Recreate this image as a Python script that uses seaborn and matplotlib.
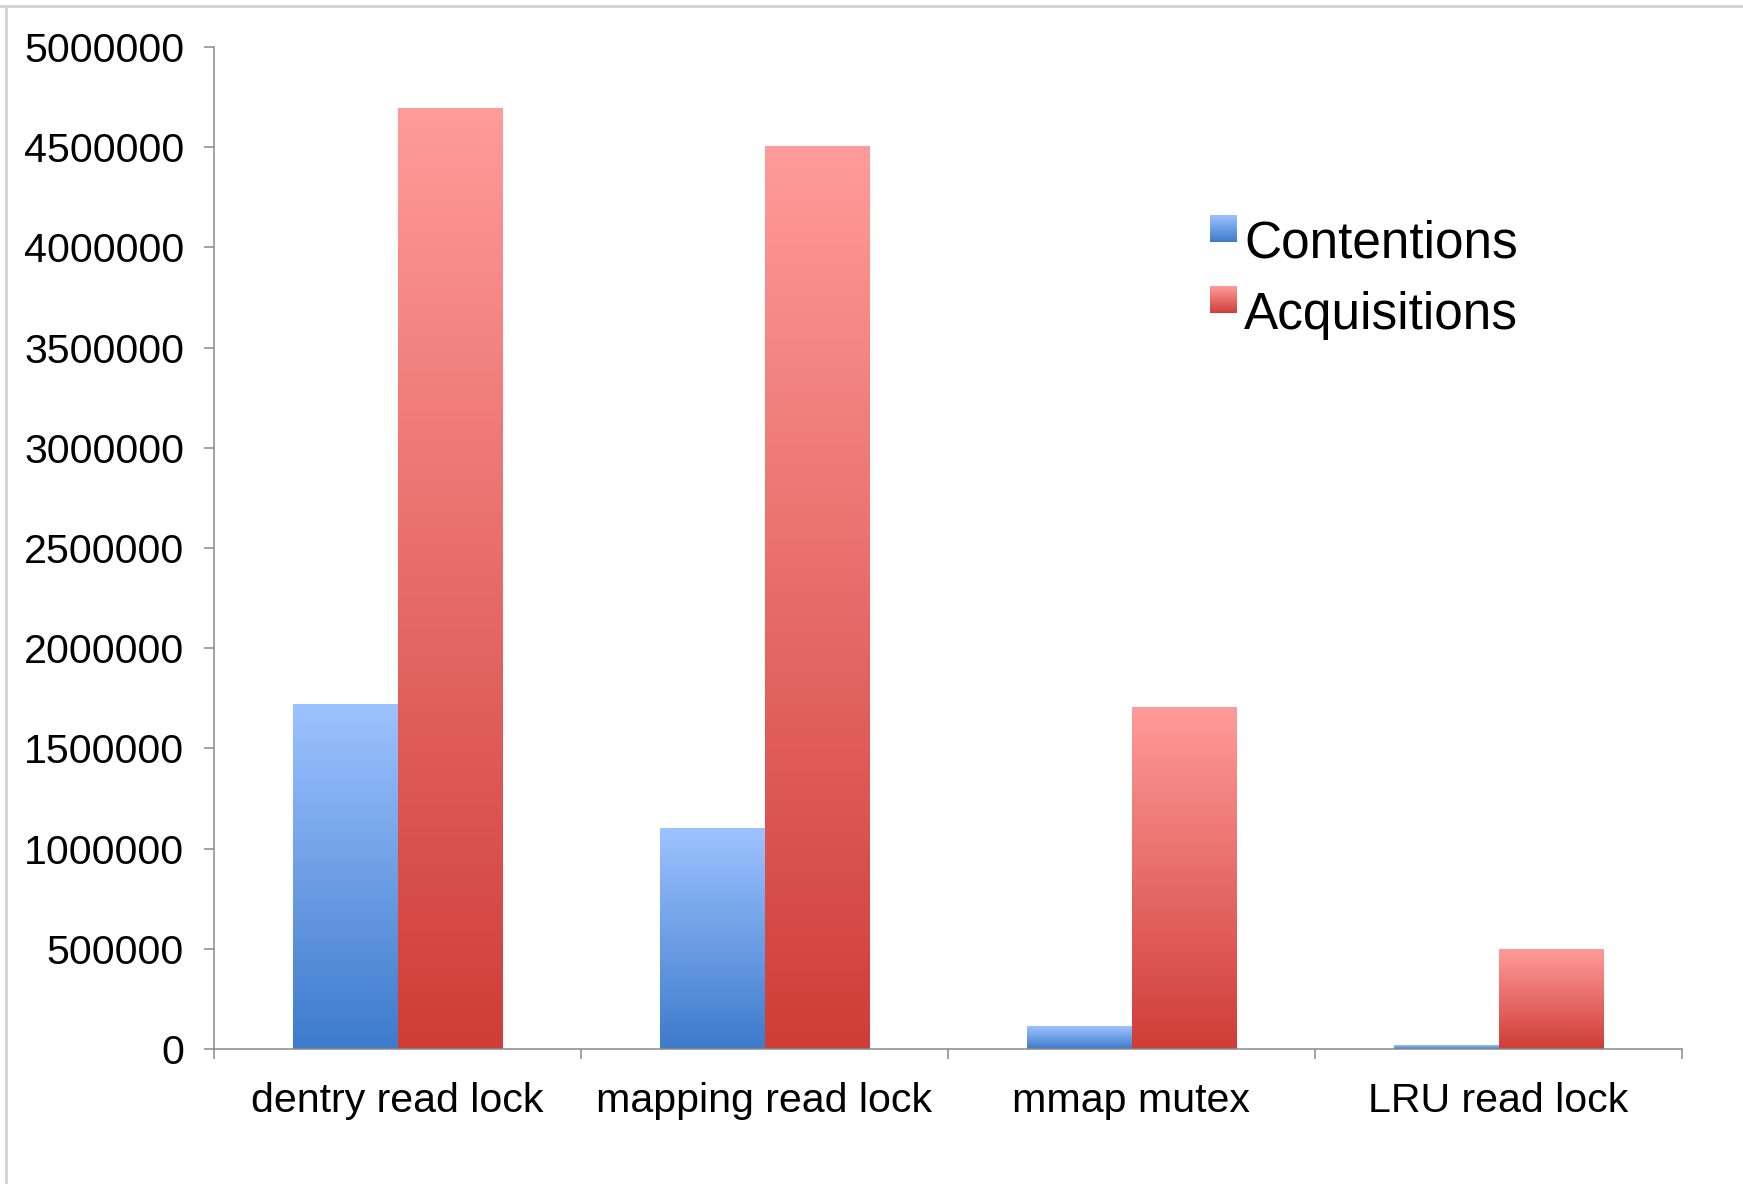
import numpy as np
import pandas as pd
import matplotlib
matplotlib.use("Agg")
import matplotlib.pyplot as plt
import seaborn as sns
from matplotlib.colors import LinearSegmentedColormap
from matplotlib.legend_handler import HandlerBase
from matplotlib.image import BboxImage
from matplotlib.transforms import Bbox, TransformedBbox
from matplotlib.lines import Line2D
from matplotlib.ticker import FixedLocator

# Lock statistics
categories = ["dentry read lock", "mapping read lock", "mmap mutex", "LRU read lock"]
series_names = ["Contentions", "Acquisitions"]
contentions = [1720000, 1100000, 110000, 15000]
acquisitions = [4695000, 4505000, 1705000, 495000]
y_ticks = [0, 500000, 1000000, 1500000, 2000000, 2500000,
           3000000, 3500000, 4000000, 4500000, 5000000]

df = pd.DataFrame({
    "lock": categories * 2,
    "count": contentions + acquisitions,
    "series": [series_names[0]] * len(categories) + [series_names[1]] * len(categories),
})

# vertical gradients: dark at the base, light at the top
blue_cmap = LinearSegmentedColormap.from_list("blue_grad", ["#3d7bcb", "#9dc2ff"])
red_cmap = LinearSegmentedColormap.from_list("red_grad", ["#cf3d38", "#ff9b99"])
cmaps = {series_names[0]: blue_cmap, series_names[1]: red_cmap}
mid_colors = {series_names[0]: "#6a9ee6", series_names[1]: "#e66a68"}

sns.set_theme(style="white")
plt.rcParams["font.family"] = ["Liberation Sans", "DejaVu Sans"]
plt.rcParams["text.color"] = "black"

fig = plt.figure(figsize=(17.43, 11.84), dpi=100)
ax = fig.add_axes([214 / 1743, 1 - 1049 / 1184, (1682 - 214) / 1743, (1049 - 47) / 1184])

sns.barplot(data=df, x="lock", y="count", hue="series", hue_order=series_names,
            palette=mid_colors, width=0.572, saturation=1, legend=False, ax=ax)

grad = np.linspace(0, 1, 256).reshape(-1, 1)
for name, container in zip(series_names, ax.containers):
    for bar in container:
        x, y = bar.get_x(), bar.get_y()
        w, h = bar.get_width(), bar.get_height()
        bar.set_facecolor("none")
        bar.set_edgecolor("#dcdcdc")
        bar.set_linewidth(0.8)
        ax.imshow(grad, extent=[x, x + w, y, y + h], origin="lower",
                  aspect="auto", cmap=cmaps[name], interpolation="bilinear", zorder=2)

ax.set_xlim(-0.5, len(categories) - 0.5)
ax.set_ylim(0, 5000000)
ax.set_yticks(y_ticks)
ax.set_yticklabels([str(v) for v in y_ticks])
ax.set_xlabel("")
ax.set_ylabel("")

# category separators as minor ticks
ax.xaxis.set_minor_locator(FixedLocator(np.arange(-0.5, len(categories), 1.0)))
ax.tick_params(axis="x", which="major", length=0, pad=24, labelsize=29.6, colors="black")
ax.tick_params(axis="x", which="minor", bottom=True, length=7.5, width=1.1,
               color="#8a8a8a", direction="out")
ax.tick_params(axis="y", which="major", left=True, length=7.5, width=1.1,
               color="#8a8a8a", direction="out", pad=14, labelsize=29.6, labelcolor="black")

sns.despine(ax=ax)
for side in ("left", "bottom"):
    ax.spines[side].set_color("#8a8a8a")
    ax.spines[side].set_linewidth(1.1)
    ax.spines[side].set_zorder(3)


class GradientSquare(HandlerBase):
    def __init__(self, cmap):
        super().__init__()
        self.cmap = cmap

    def create_artists(self, legend, orig_handle, xdescent, ydescent,
                       width, height, fontsize, trans):
        side = height
        bb = Bbox.from_bounds(-xdescent, -ydescent + 0.4 * height, side, side)
        img = BboxImage(TransformedBbox(bb, trans), cmap=self.cmap,
                        interpolation="bilinear", origin="lower")
        img.set_data(grad)
        return [img]


handles = [Line2D([], [], label=n) for n in series_names]
leg = fig.legend(handles=handles, labels=series_names,
                 handler_map={h: GradientSquare(cmaps[n]) for h, n in zip(handles, series_names)},
                 loc="upper left", bbox_to_anchor=(1210 / 1743, 1 - 220 / 1184),
                 frameon=False, fontsize=37, labelcolor="black",
                 handlelength=0.42, handleheight=0.42,
                 handletextpad=0.24, labelspacing=0.42, borderpad=0, borderaxespad=0)

# light outline around the slide
fig.add_artist(Line2D([0, 1], [1 - 5.5 / 1184] * 2, transform=fig.transFigure,
                      color="#d2d2d2", linewidth=2))
fig.add_artist(Line2D([5.5 / 1743] * 2, [0, 1 - 5.5 / 1184], transform=fig.transFigure,
                      color="#d2d2d2", linewidth=2))

fig.savefig("out.png", dpi=100, facecolor="white")
